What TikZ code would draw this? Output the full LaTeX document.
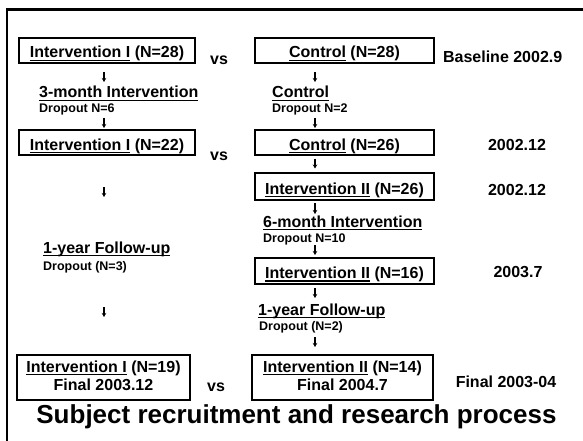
\documentclass[tikz,border=0pt]{standalone}
\usepackage{fontspec}
\setmainfont{Liberation Sans}
\usetikzlibrary{arrows.meta}
\newsavebox\ulbx
\newcommand\ulx[1]{\sbox\ulbx{#1}\rlap{\rule[-3pt]{\wd\ulbx}{1.3pt}}\usebox\ulbx}
\begin{document}
\begin{tikzpicture}[x=1pt,y=-1pt,
  box/.style={draw, line width=1.4pt, inner sep=0pt, outer sep=0pt,
    font=\fontsize{16}{18}\selectfont\bfseries, text height=15pt, text depth=0pt},
  lab/.style={anchor=base west, inner sep=0pt, font=\fontsize{16}{18}\selectfont\bfseries},
  drop/.style={anchor=base west, inner sep=0pt, font=\fontsize{12.5}{14}\selectfont\bfseries},
  datelab/.style={anchor=base, inner sep=0pt, font=\fontsize{16}{18}\selectfont\bfseries},
  arr/.style={line width=1.2pt, -{Stealth[length=4pt,width=4.5pt]}}]
\useasboundingbox (0,0) rectangle (583,441);
\draw[line width=2.5pt] (7,441) -- (7,9.5) -- (583,9.5);

% x positions of the small arrows
\coordinate (xl) at (104,0);
\coordinate (xr) at (315,0);

% row 1
\node[box, minimum width=176pt, minimum height=25pt] (b1) at (107,50.5) {\ulx{Intervention I} (N=28)};
\node[datelab] (vs1) at (219,65) {vs};
\node[box, minimum width=179pt, minimum height=25pt] (b2) at (344.5,50.5) {\ulx{Control} (N=28)};
\node[datelab] (d1) at (502.7,63) {Baseline 2002.9};

\node[lab] (l1) at (39,98) {\ulx{3-month Intervention}};
\node[drop] (dr1) at (39,113) {Dropout N=6};
\node[lab] (l2) at (272,98) {\ulx{Control}};
\node[drop] (dr2) at (272,113) {Dropout N=2};

% row 2
\node[box, minimum width=176pt, minimum height=25pt] (b3) at (107,142.5) {\ulx{Intervention I} (N=22)};
\node[datelab] (vs2) at (219,160) {vs};
\node[box, minimum width=179pt, minimum height=25pt] (b4) at (344.5,142.5) {\ulx{Control} (N=26)};
\node[datelab] (d2) at (517,150) {2002.12};

\node[box, minimum width=179pt, minimum height=27pt] (b5) at (344.5,186.5) {\ulx{Intervention II} (N=26)};
\node[datelab] (d3) at (517,195) {2002.12};

\node[lab] (l3) at (263,227) {\ulx{6-month Intervention}};
\node[drop] (dr3) at (263,242) {Dropout N=10};

\node[lab] (l4) at (43,253) {\ulx{1-year Follow-up}};
\node[drop] (dr4) at (43,270) {Dropout (N=3)};

\node[box, minimum width=179pt, minimum height=26pt] (b6) at (344.5,271) {\ulx{Intervention II} (N=16)};
\node[datelab] (d4) at (518,277) {2003.7};

\node[lab] (l5) at (258,315) {\ulx{1-year Follow-up}};
\node[drop] (dr5) at (259,330) {Dropout (N=2)};

% final row
\node[box, minimum width=173pt, minimum height=45pt, align=center, text height=28pt, text depth=3pt] (b7) at (103.5,377.5) {\ulx{Intervention I} (N=19)\\Final 2003.12};
\node[datelab] (vs3) at (216,391) {vs};
\node[box, minimum width=181pt, minimum height=45pt, align=center, text height=28pt, text depth=3pt] (b8) at (342.5,377.5) {\ulx{Intervention II} (N=14)\\Final 2004.7};
\node[datelab] (d5) at (506,387) {Final 2003-04};

\node[anchor=base, inner sep=0pt, font=\fontsize{26}{30}\selectfont\bfseries] (title) at (296.5,423) {Subject recruitment and research process};

% arrows
\draw[arr] (b1.south -| xl) ++(0,9) -- ++(0,10);
\draw[arr] (b3.north -| xl) ++(0,-12) -- ++(0,10);
\draw[arr] (b2.south -| xr) ++(0,9) -- ++(0,10);
\draw[arr] (b4.north -| xr) ++(0,-12) -- ++(0,10);
\draw[arr] (b4.south -| xr) ++(0,3.5) -- ++(0,10);
\draw[arr] (b5.south -| xr) ++(0,3) -- ++(0,11);
\draw[arr] (b6.north -| xr) ++(0,-13) -- ++(0,10);
\draw[arr] (b3.south -| xl) ++(0,32) -- ++(0,10);
\draw[arr] (b7.north -| xl) ++(0,-48) -- ++(0,10);
\draw[arr] (b6.south -| xr) ++(0,4) -- ++(0,10);
\draw[arr] (b8.north -| xr) ++(0,-18) -- ++(0,10);
\end{tikzpicture}
\end{document}
